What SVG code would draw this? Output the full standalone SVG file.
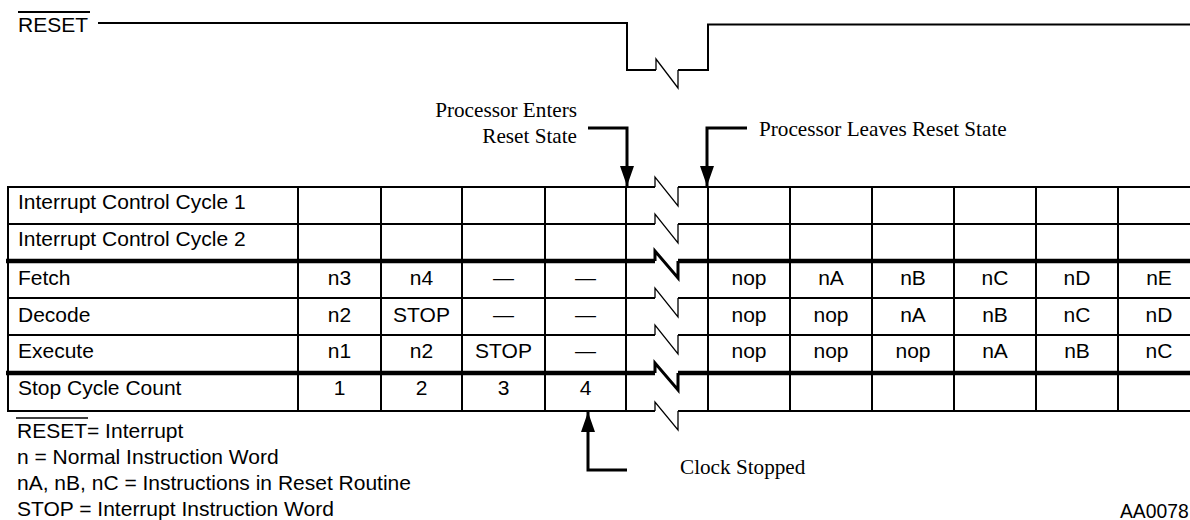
<svg xmlns="http://www.w3.org/2000/svg" width="1190" height="520" viewBox="0 0 1190 520">
<style>
.s{font-family:"Liberation Sans",Arial,sans-serif;font-size:21px;fill:#000}
.c{text-anchor:middle}
.t{font-family:"Liberation Serif","Times New Roman",serif;font-size:21.2px;fill:#000}
.ln{stroke:#000;stroke-width:2;fill:none}
.thk{stroke:#000;stroke-width:4.5;fill:none}
.zz{stroke:#000;stroke-width:1.3;fill:none;stroke-linejoin:miter}
.zzt{stroke:#000;stroke-width:3;fill:none}
.arr{stroke:#000;stroke-width:3;fill:none;marker-end:url(#ah)}
</style>
<defs>
<marker id="ah" markerUnits="userSpaceOnUse" markerWidth="22" markerHeight="16" refX="20" refY="7" orient="auto" viewBox="0 0 22 14">
<path d="M0,0 L20,7 L0,14 Z" fill="#000"/>
</marker>
</defs>
<rect width="1190" height="520" fill="#fff"/>

<g id="reset-signal">
<text class="s" x="18" y="31.5">RESET</text>
<line class="ln" x1="18" y1="12" x2="90" y2="12" stroke-width="1.6"/>
<path class="ln" d="M98,23 H627 V70 H656"/>
<path class="zz" d="M656,70 V59 L678,88 V70"/>
<path class="ln" d="M678,70 H708 V24.5 H1190" stroke-width="2.5"/>
</g>

<g id="table-grid">
<g class="ln">
<line x1="8" y1="187" x2="8" y2="411"/>
<line x1="298" y1="187" x2="298" y2="411"/>
<line x1="381" y1="187" x2="381" y2="411"/>
<line x1="462" y1="187" x2="462" y2="411"/>
<line x1="545" y1="187" x2="545" y2="411"/>
<line x1="626" y1="187" x2="626" y2="411"/>
<line x1="708" y1="187" x2="708" y2="411"/>
<line x1="790" y1="187" x2="790" y2="411"/>
<line x1="872" y1="187" x2="872" y2="411"/>
<line x1="954" y1="187" x2="954" y2="411"/>
<line x1="1036" y1="187" x2="1036" y2="411"/>
<line x1="1118" y1="187" x2="1118" y2="411"/>
<path d="M7,187 H655 M678,187 H1190"/>
<path d="M7,224 H655 M678,224 H1190"/>
<path d="M7,298 H655 M678,298 H1190"/>
<path d="M7,335 H655 M678,335 H1190"/>
<path d="M7,411 H655 M678,411 H1190"/>
</g>
<path class="thk" d="M6,261 H655 M678,261 H1190"/>
<path class="thk" d="M6,373 H655 M678,373 H1190"/>
<path class="zz" d="M655,187 V177 L678,206 V187"/>
<path class="zz" d="M655,224 V214 L678,243 V224"/>
<path class="zzt" d="M655,261 V251 L678,278 V261"/>
<path class="zz" d="M655,298 V288 L678,317 V298"/>
<path class="zz" d="M655,335 V325 L678,354 V335"/>
<path class="zzt" d="M655,373 V363 L678,390 V373"/>
<path class="zz" d="M655,411 V402 L678,430 V411"/>
</g>

<g id="row-icc1">
<text class="s" x="18" y="209">Interrupt Control Cycle 1</text>
</g>
<g id="row-icc2">
<text class="s" x="18" y="246">Interrupt Control Cycle 2</text>
</g>
<g id="row-fetch">
<text class="s" x="18" y="285">Fetch</text>
<text class="s c" x="339.5" y="285">n3</text>
<text class="s c" x="421.5" y="285">n4</text>
<text class="s c" x="503.5" y="285">—</text>
<text class="s c" x="585.5" y="285">—</text>
<text class="s c" x="749" y="285">nop</text>
<text class="s c" x="831" y="285">nA</text>
<text class="s c" x="913" y="285">nB</text>
<text class="s c" x="995" y="285">nC</text>
<text class="s c" x="1077" y="285">nD</text>
<text class="s c" x="1159" y="285">nE</text>
</g>
<g id="row-decode">
<text class="s" x="18" y="322">Decode</text>
<text class="s c" x="339.5" y="322">n2</text>
<text class="s c" x="421.5" y="322">STOP</text>
<text class="s c" x="503.5" y="322">—</text>
<text class="s c" x="585.5" y="322">—</text>
<text class="s c" x="749" y="322">nop</text>
<text class="s c" x="831" y="322">nop</text>
<text class="s c" x="913" y="322">nA</text>
<text class="s c" x="995" y="322">nB</text>
<text class="s c" x="1077" y="322">nC</text>
<text class="s c" x="1159" y="322">nD</text>
</g>
<g id="row-execute">
<text class="s" x="18" y="358">Execute</text>
<text class="s c" x="339.5" y="358">n1</text>
<text class="s c" x="421.5" y="358">n2</text>
<text class="s c" x="503.5" y="358">STOP</text>
<text class="s c" x="585.5" y="358">—</text>
<text class="s c" x="749" y="358">nop</text>
<text class="s c" x="831" y="358">nop</text>
<text class="s c" x="913" y="358">nop</text>
<text class="s c" x="995" y="358">nA</text>
<text class="s c" x="1077" y="358">nB</text>
<text class="s c" x="1159" y="358">nC</text>
</g>
<g id="row-stop-count">
<text class="s" x="18" y="395">Stop Cycle Count</text>
<text class="s c" x="339.5" y="395">1</text>
<text class="s c" x="421.5" y="395">2</text>
<text class="s c" x="503.5" y="395">3</text>
<text class="s c" x="585.5" y="395">4</text>
</g>

<g id="label-enters">
<text class="t" x="577" y="117" text-anchor="end">Processor Enters</text>
<text class="t" x="577" y="143" text-anchor="end">Reset State</text>
</g>
<g id="label-leaves">
<text class="t" x="759" y="136">Processor Leaves Reset State</text>
</g>
<g id="label-clock">
<text class="t" x="680" y="474">Clock Stopped</text>
</g>

<g id="connectors">
<path class="arr" d="M588,128 H627 V186"/>
<path class="arr" d="M747,128 H707 V186"/>
<path class="arr" d="M627,470 H588 V412"/>
</g>

<g id="legend">
<line x1="16" y1="418" x2="88" y2="418" stroke="#000" stroke-width="1.5"/>
<text class="s" x="17" y="438">RESET= Interrupt</text>
<text class="s" x="17" y="464">n = Normal Instruction Word</text>
<text class="s" x="17" y="490">nA, nB, nC = Instructions in Reset Routine</text>
<text class="s" x="17" y="516">STOP = Interrupt Instruction Word</text>
<text x="1120" y="518" font-family="'Liberation Sans',Arial,sans-serif" font-size="19.3">AA0078</text>
</g>
</svg>
